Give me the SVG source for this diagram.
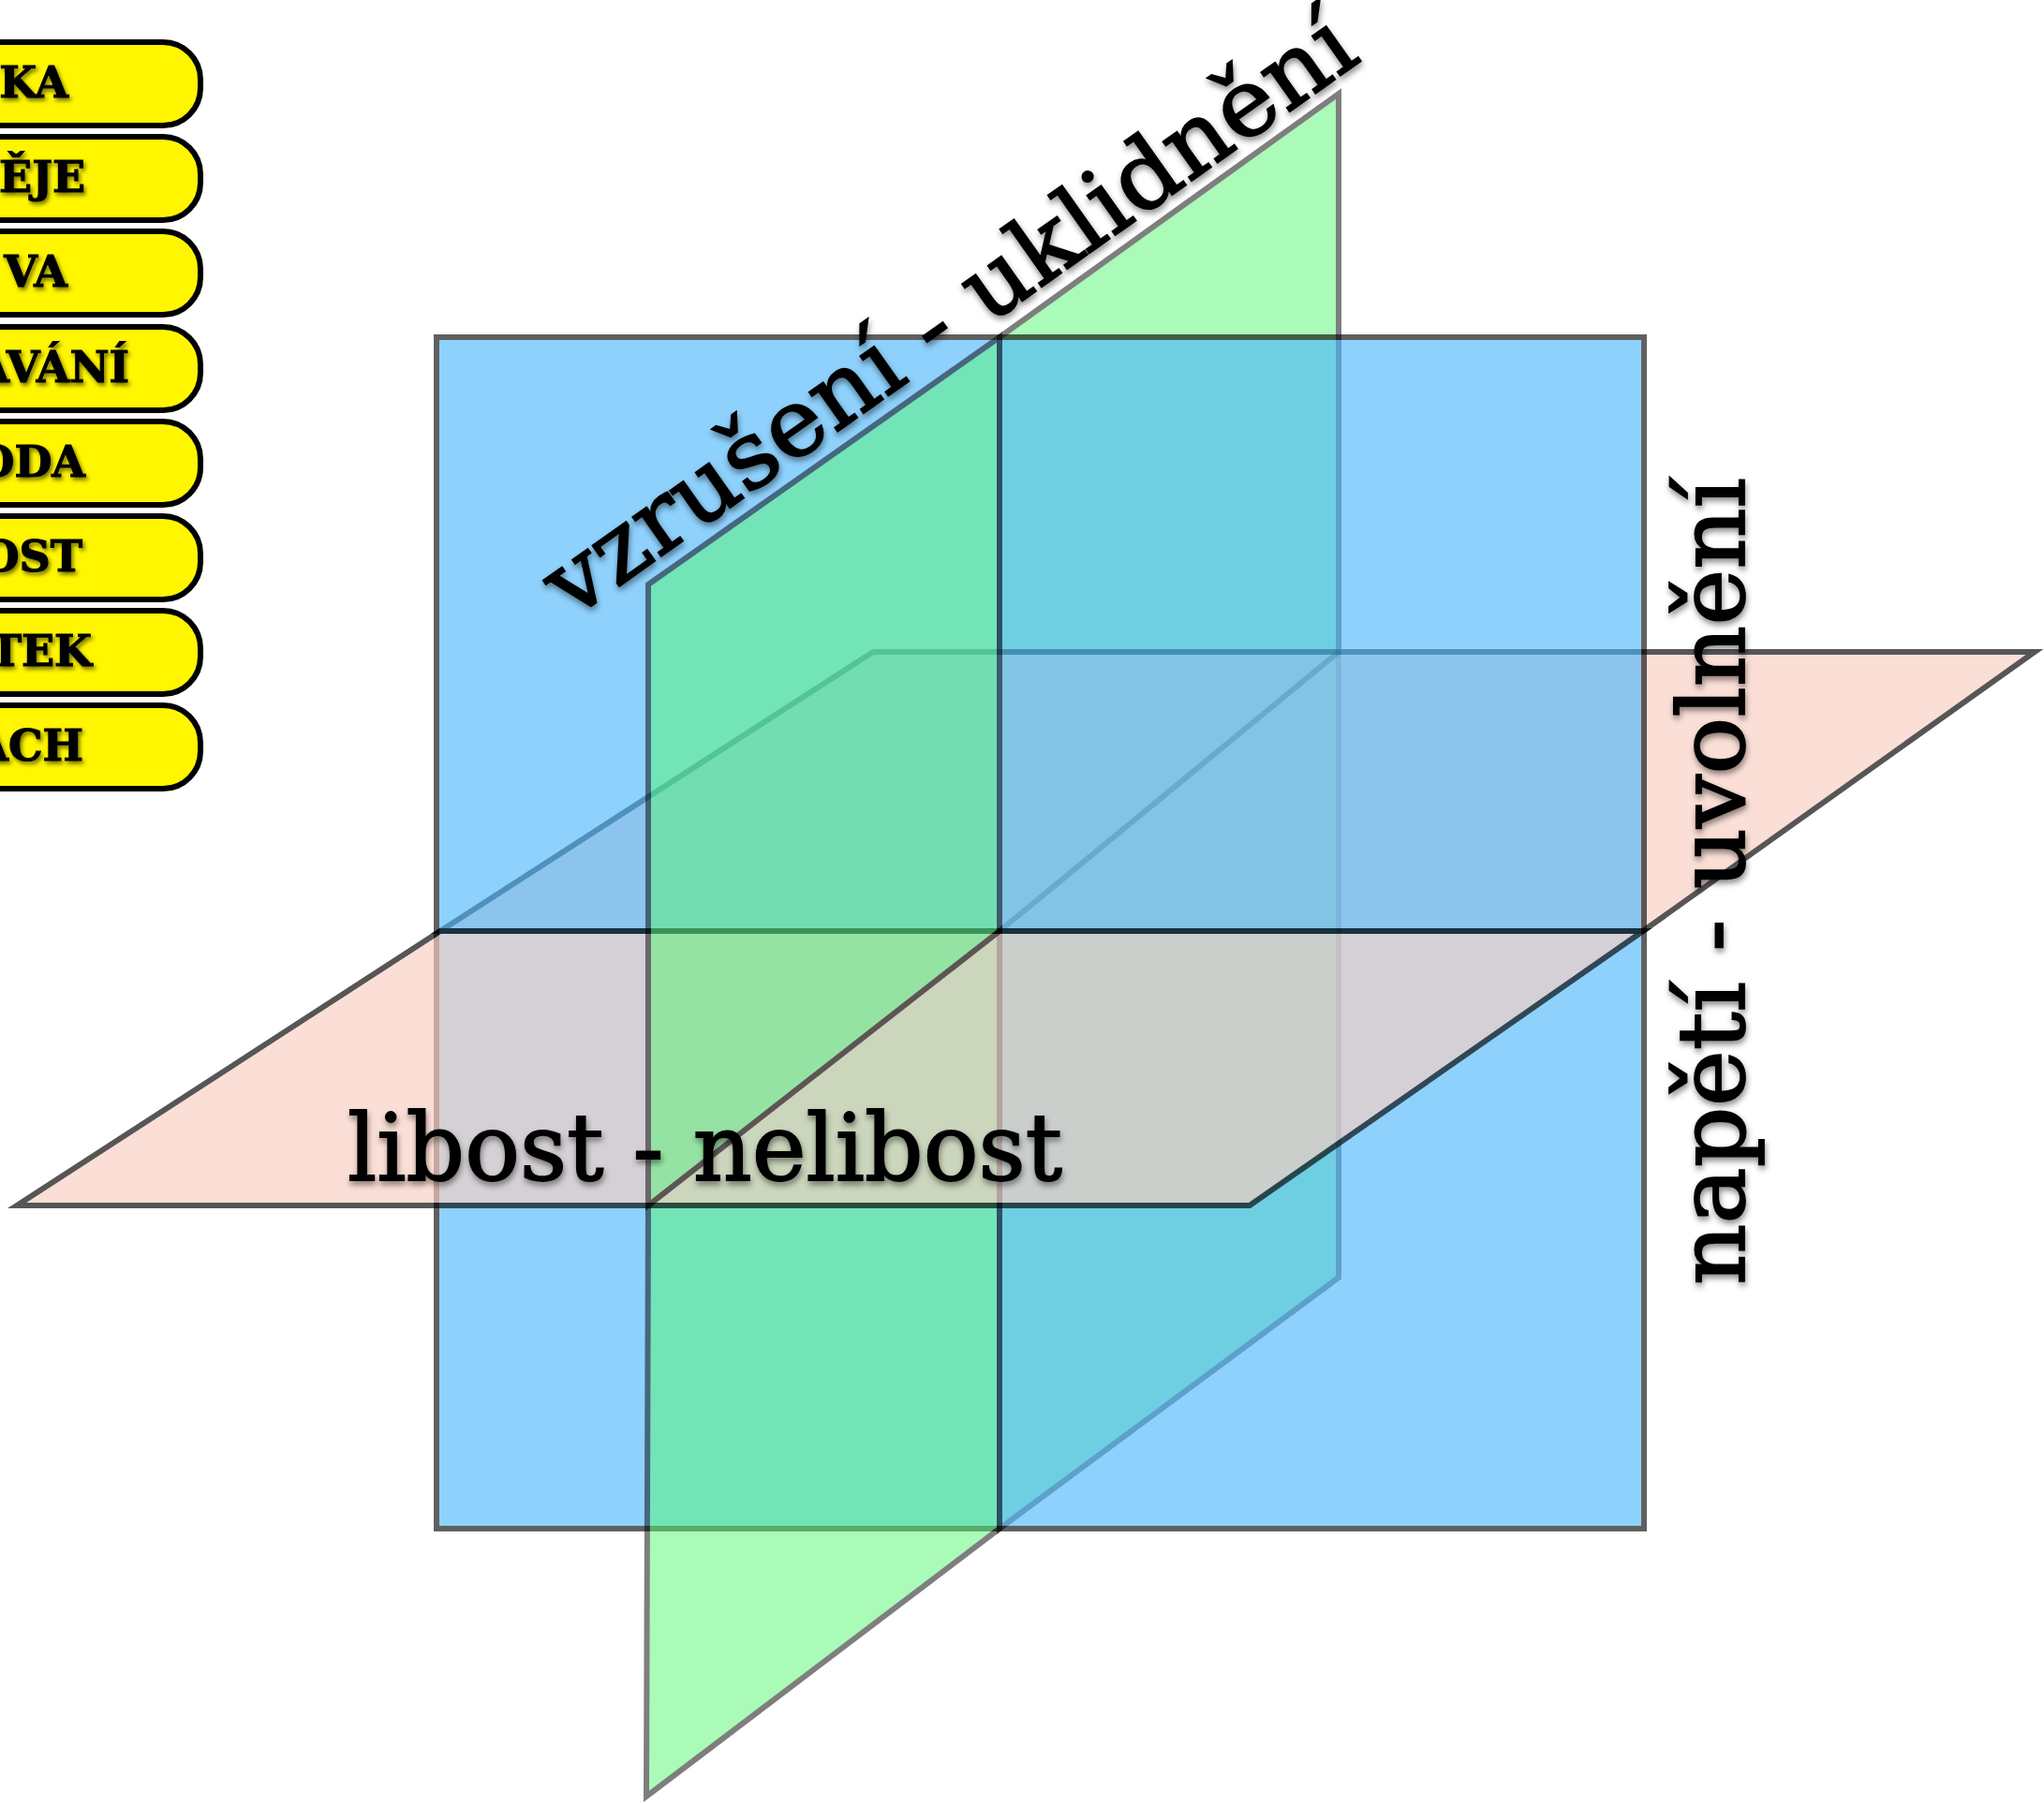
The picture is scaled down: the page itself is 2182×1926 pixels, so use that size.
<svg xmlns="http://www.w3.org/2000/svg" width="2182" height="1926" viewBox="0 0 2182 1926">
<defs>
<filter id="tsh" x="-10%" y="-10%" width="120%" height="130%"><feDropShadow dx="1" dy="4" stdDeviation="3" flood-color="#000" flood-opacity="0.45"/></filter>
<filter id="bsh" x="-10%" y="-20%" width="130%" height="150%"><feDropShadow dx="2" dy="3" stdDeviation="2" flood-color="#000" flood-opacity="0.55"/></filter>
<style>
.pl{stroke:#000;stroke-width:6;stroke-linejoin:miter;stroke-miterlimit:10}
.green{fill:#57f773;opacity:.5}
.salmon{fill:#fad0c1;opacity:.66}
.blue{fill:#4ab5fd;opacity:.62}
.btn{fill:#fff600;stroke:#000;stroke-width:6}
.bt{font-family:"DejaVu Serif",serif;font-weight:bold;font-size:46px;fill:#000;stroke:#000;stroke-width:1.2;text-anchor:end}
.lbl{font-family:"DejaVu Serif","Liberation Serif",serif;font-size:100px;fill:#000;stroke:#000;stroke-width:1.8}
</style>
</defs>
<rect width="2182" height="1926" fill="#fff"/>

<g id="buttons">
<g id="btn-1"><rect class="btn" x="-100" y="45" width="314" height="89" rx="40"/><text class="bt" x="73" y="104" filter="url(#bsh)">KA</text></g>
<g id="btn-2"><rect class="btn" x="-100" y="146" width="314" height="89" rx="40"/><text class="bt" x="91" y="205" filter="url(#bsh)">ĚJE</text></g>
<g id="btn-3"><rect class="btn" x="-100" y="247" width="314" height="89" rx="40"/><text class="bt" x="72" y="306" filter="url(#bsh)">VA</text></g>
<g id="btn-4"><rect class="btn" x="-100" y="349" width="314" height="89" rx="40"/><text class="bt" x="138" y="408" filter="url(#bsh)">AVÁNÍ</text></g>
<g id="btn-5"><rect class="btn" x="-100" y="450" width="314" height="89" rx="40"/><text class="bt" x="91" y="509" filter="url(#bsh)">ODA</text></g>
<g id="btn-6"><rect class="btn" x="-100" y="551" width="314" height="89" rx="40"/><text class="bt" x="88" y="610" filter="url(#bsh)">OST</text></g>
<g id="btn-7"><rect class="btn" x="-100" y="652" width="314" height="89" rx="40"/><text class="bt" x="98" y="711" filter="url(#bsh)">TEK</text></g>
<g id="btn-8"><rect class="btn" x="-100" y="753" width="314" height="89" rx="40"/><text class="bt" x="89" y="812" filter="url(#bsh)">ACH</text></g>
</g>

<g id="green-back"><polygon class="pl green" points="1067,360 1429,100 1429,1364 1067,1632"/></g>
<g id="salmon-back"><polygon class="pl salmon" points="470,994 932,696 2172,696 1754,994"/>
<line x1="1067" y1="994" x2="1429" y2="696" stroke="#000" stroke-width="6" opacity="0.3"/></g>
<g id="blue-plane"><rect class="pl blue" x="466" y="360" width="1289" height="1272"/></g>
<g id="green-front-lower"><polygon class="pl green" points="692,1287 1067,994 1067,1632 690,1918"/></g>
<g id="salmon-front"><polygon class="pl salmon" points="18,1287 470,994 1754,994 1334,1287"/></g>
<g id="green-front-upper"><polygon class="pl green" points="692,624 1067,360 1067,994 692,1287"/></g>

<g id="labels">
<g filter="url(#tsh)"><text class="lbl" transform="translate(610,662) rotate(-35.3)" textLength="1035" lengthAdjust="spacingAndGlyphs">vzrušení - uklidnění</text></g>
<g filter="url(#tsh)"><text class="lbl" x="371" y="1260" textLength="763" lengthAdjust="spacingAndGlyphs">libost - nelibost</text></g>
<g filter="url(#tsh)"><text class="lbl" transform="translate(1862,1372) rotate(-90)" textLength="862" lengthAdjust="spacingAndGlyphs">napětí - uvolnění</text></g>
</g>
</svg>
